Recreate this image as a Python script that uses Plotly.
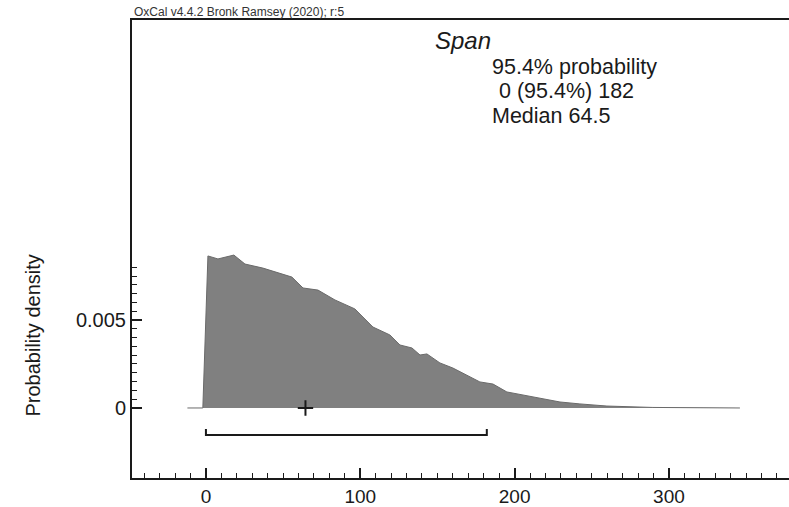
import plotly.graph_objects as go

# Posterior density of the span (years)
span_years = [-12, -2, 1.3, 7.8, 18.1, 25.3, 36.9, 44.7, 55.7, 62.9, 72.6, 83.6,
              96.5, 108.2, 119.2, 125.7, 133.5, 138.7, 143.2, 151.6, 160.0,
              177.5, 186.0, 195.0, 205.4, 216.4, 229.4, 242.3, 259.8, 289.6, 346]
span_density = [0, 0, 0.00864, 0.00847, 0.00869, 0.00818, 0.00795, 0.00773,
                0.00744, 0.00682, 0.00670, 0.00614, 0.00563, 0.00460, 0.00415,
                0.00358, 0.00341, 0.00301, 0.00307, 0.00256, 0.00227, 0.00148,
                0.00136, 0.00091, 0.00074, 0.00057, 0.00034, 0.00023, 0.00011,
                0.00003, 0]

hpd_range = [0, 182]      # 95.4% highest posterior density range
median_value = 64.5

x_major = [0, 100, 200, 300]
y_major = [0, 0.005]
y_major_text = ["0", "0.005"]
y_minor = [i * 0.0005 for i in range(17)]

font_family = "Liberation Sans, Arial, Helvetica, sans-serif"
ink = "#1a1a1a"

fig = go.Figure()

fig.add_trace(go.Scatter(
    x=span_years, y=span_density, mode="lines",
    fill="tozeroy", fillcolor="#808080",
    line=dict(color="#6a6a6a", width=1),
    hoverinfo="skip", showlegend=False,
))

# range bracket under the distribution
bracket_y = -0.00153
bracket_tip = -0.00119
fig.add_trace(go.Scatter(
    x=[hpd_range[0], hpd_range[0], hpd_range[1], hpd_range[1]],
    y=[bracket_tip, bracket_y, bracket_y, bracket_tip],
    mode="lines", line=dict(color=ink, width=2),
    hoverinfo="skip", showlegend=False,
))

# median marker
fig.add_trace(go.Scatter(
    x=[median_value], y=[0], mode="markers",
    marker=dict(symbol="cross-thin", size=11, line=dict(color=ink, width=2)),
    hoverinfo="skip", showlegend=False,
))

fig.update_layout(
    width=789, height=507,
    margin=dict(l=132, r=0, t=20, b=29),
    paper_bgcolor="white", plot_bgcolor="white",
    font=dict(family=font_family, color=ink, size=20),
    xaxis=dict(
        range=[-47.9, 377.8], showgrid=False, zeroline=False,
        showline=True, linecolor=ink, linewidth=2, mirror=True,
        tickmode="array", tickvals=x_major,
        ticks="inside", ticklen=10, tickwidth=1.5, tickcolor=ink,
        minor=dict(dtick=10, tick0=0, ticks="inside", ticklen=5,
                   tickwidth=1, tickcolor=ink),
        tickfont=dict(size=19), automargin=False,
    ),
    yaxis=dict(
        range=[-0.00398, 0.02205], showgrid=False, zeroline=False,
        showline=True, linecolor=ink, linewidth=2,
        tickmode="array", tickvals=y_major, ticktext=y_major_text,
        ticks="inside", ticklen=10, tickwidth=1.5, tickcolor=ink,
        minor=dict(tickmode="array", tickvals=y_minor, ticks="inside",
                   ticklen=5, tickwidth=1, tickcolor=ink),
        tickfont=dict(size=20), automargin=False,
    ),
    annotations=[
        dict(text="OxCal v4.4.2 Bronk Ramsey (2020); r:5", xref="paper",
             yref="paper", x=0.0, y=1.0175, xanchor="left", yanchor="middle",
             showarrow=False, font=dict(size=12, color="#333333")),
        dict(text="<i>Span</i>", xref="paper", yref="paper", x=0.458,
             y=0.956, xanchor="left", yanchor="middle", showarrow=False,
             font=dict(size=24)),
        dict(text="95.4% probability", xref="paper", yref="paper", x=0.545,
             y=0.897, xanchor="left", yanchor="middle", showarrow=False,
             font=dict(size=21.5)),
        dict(text="0 (95.4%) 182", xref="paper", yref="paper", x=0.556,
             y=0.845, xanchor="left", yanchor="middle", showarrow=False,
             font=dict(size=21.5)),
        dict(text="Median 64.5", xref="paper", yref="paper", x=0.545,
             y=0.790, xanchor="left", yanchor="middle", showarrow=False,
             font=dict(size=21.5)),
        dict(text="Probability density", xref="paper", yref="paper",
             x=-0.150, y=0.312, xanchor="center", yanchor="middle",
             textangle=-90, showarrow=False, font=dict(size=20)),
    ],
)

fig.write_html("out.html")
